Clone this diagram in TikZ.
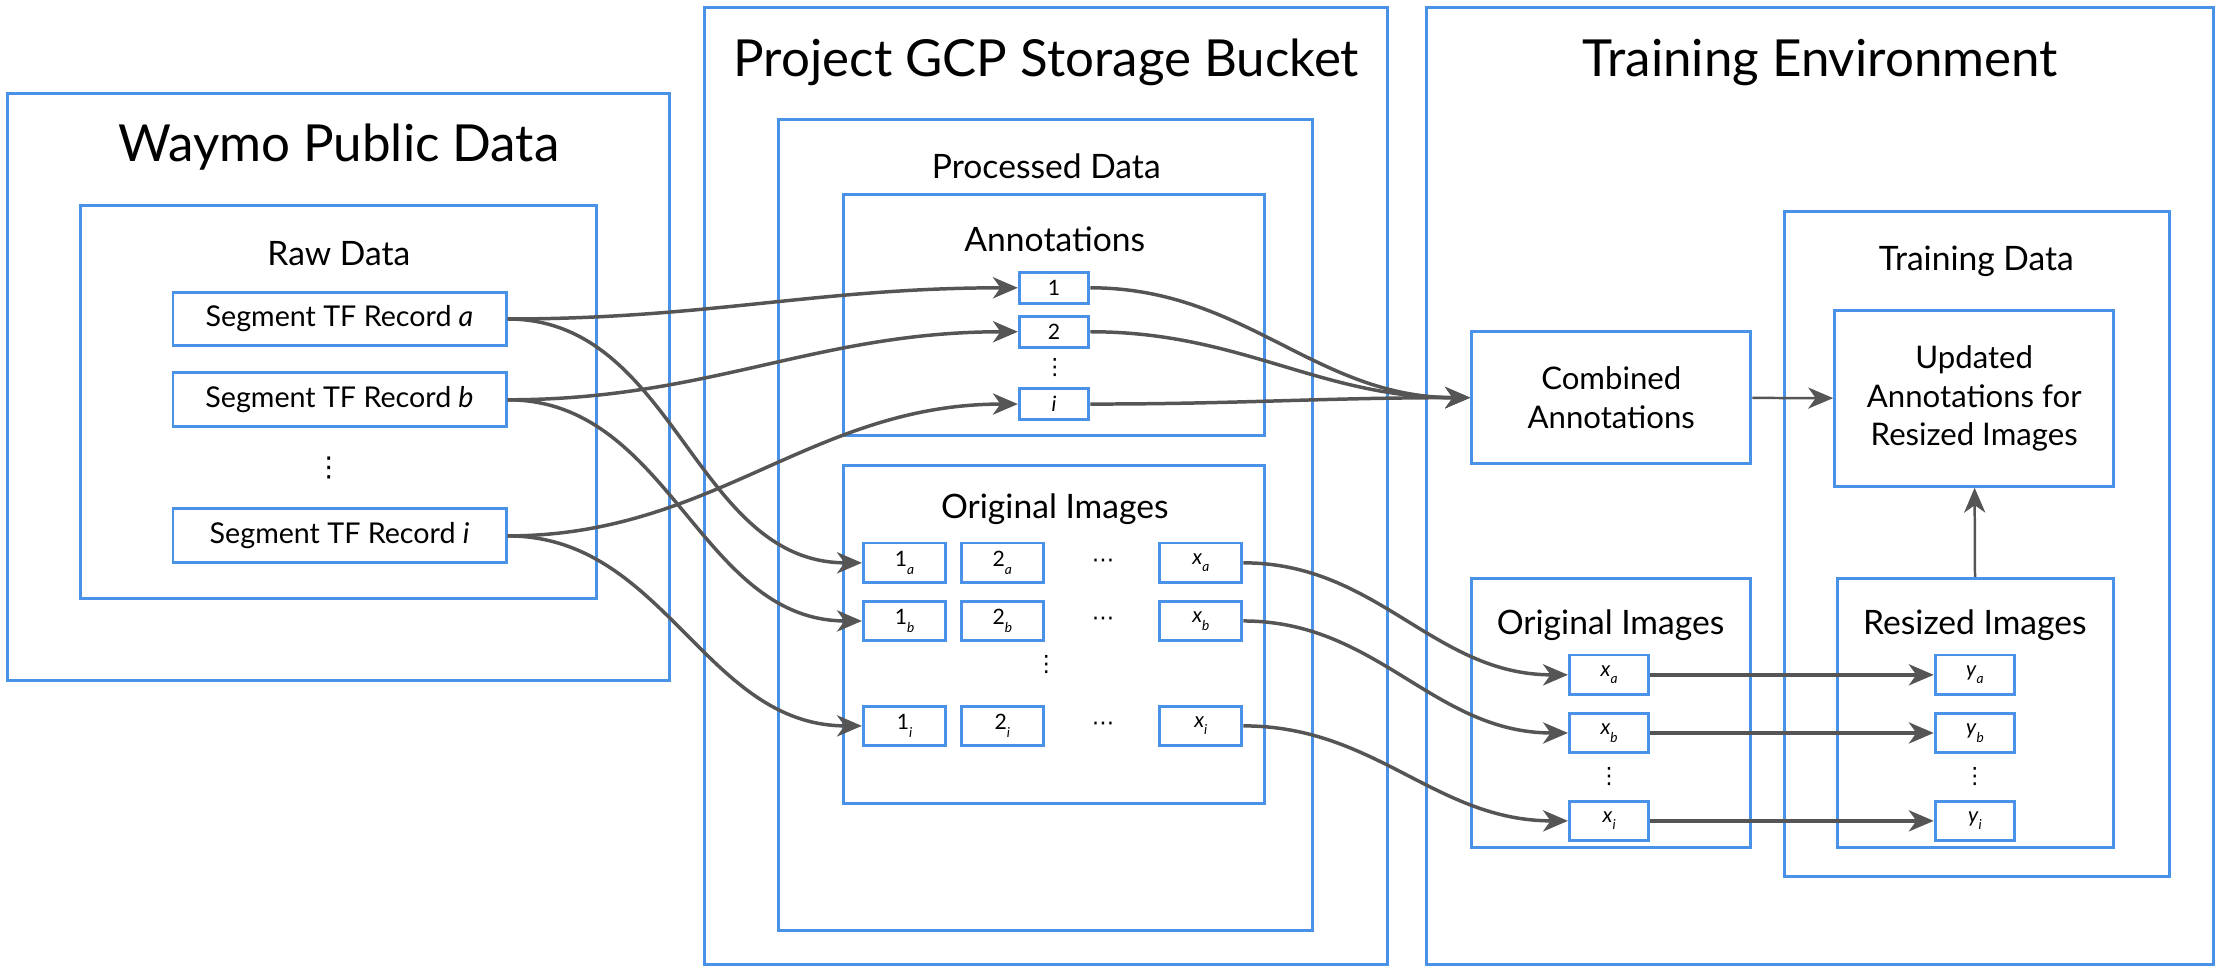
\documentclass[tikz,border=0pt]{standalone}
\usepackage{fontspec}
\setmainfont{Lato}
\newfontfamily\dotsfont{DejaVu Sans}
\usetikzlibrary{arrows.meta,fit}

\definecolor{boxblue}{RGB}{74,146,232}
\definecolor{flowgray}{RGB}{85,85,85}

% index that hangs below the line, as in the drawing
\newcommand{\subtag}[1]{\raisebox{-0.7ex}{\fontsize{5.5}{6}\selectfont\textit{#1}}}

\tikzset{
  group/.style={draw=boxblue,line width=1.2pt,inner sep=0pt},
  title/.style={font=\fontsize{20.5}{24}\selectfont},
  heading/.style={font=\fontsize{13.5}{16}\selectfont},
  record/.style={draw=boxblue,line width=1.2pt,minimum width=4.7cm,minimum height=0.76cm,inner sep=0pt,font=\fontsize{11.5}{14}\selectfont},
  annbox/.style={draw=boxblue,line width=1.2pt,minimum width=0.98cm,minimum height=0.44cm,inner sep=0pt,font=\fontsize{8.5}{10}\selectfont},
  cell/.style={draw=boxblue,line width=1.2pt,minimum width=1.16cm,minimum height=0.56cm,inner sep=0pt,font=\fontsize{8.5}{10}\selectfont},
  bigbox/.style={draw=boxblue,line width=1.2pt,minimum width=3.94cm,inner sep=0pt,align=center,font=\fontsize{12.5}{15.5}\selectfont},
  dotmark/.style={font=\dotsfont\fontsize{9}{10}\selectfont,inner sep=0pt},
  flow/.style={draw=flowgray,line width=1.4pt,-{Stealth[length=10pt,width=8.5pt,inset=3pt]}},
}

\begin{document}
\begin{tikzpicture}[x=0.02cm,y=-0.02cm]

      \useasboundingbox (0,0) rectangle (1568,686);

      % containers
      \node[group,fit={(5,66) (472,480)}] (waymo) {};
      \node[group,fit={(57,145) (421,422)}] (raw) {};
      \node[group,fit={(497,5) (979,680)}] (bucket) {};
      \node[group,fit={(549,84) (926,656)}] (processed) {};
      \node[group,fit={(595,137) (892,307)}] (annot) {};
      \node[group,fit={(595,328) (892,567)}] (origgcp) {};
      \node[group,fit={(1006,5) (1561,680)}] (env) {};
      \node[group,fit={(1259,149) (1530,618)}] (train) {};
      \node[group,fit={(1038,408) (1235,598)}] (origenv) {};
      \node[group,fit={(1296,408) (1491,598)}] (resized) {};

      % titles
      \node[title] (waymot) at (239,104) {Waymo Public Data};
      \node[title] (buckett) at (738,44) {Project GCP Storage Bucket};
      \node[title] (envt) at (1284,44) {Training Environment};
      \node[heading] (rawt) at (239,179) {Raw Data};
      \node[heading] (processedt) at (738,117) {Processed Data};
      \node[heading] (annott) at (744,169) {Annotations};
      \node[heading] (origgcpt) at (744,359) {Original Images};
      \node[heading] (traint) at (1394,184) {Training Data};
      \node[heading] (origenvt) at (1136,441) {Original Images};
      \node[heading] (resizedt) at (1393,441) {Resized Images};

      % raw records
      \begin{scope}[every node/.style={record}]
        \node (reca) at (239.5,225) {Segment TF Record \textit{a}};
        \node (recb) at (239.5,282) {Segment TF Record \textit{b}};
        \node (reci) at (239.5,378) {Segment TF Record \textit{i}};
      \end{scope}
      \node[dotmark,font=\dotsfont\fontsize{11}{12}\selectfont] (recdots) at (232,330) {⋮};

      % annotation files
      \begin{scope}[every node/.style={annbox}]
        \node (ann1) at (743.5,203) {1};
        \node (ann2) at (743.5,234) {2};
        \node (anni) at (743.5,285) {\textit{i}};
      \end{scope}
      \node[dotmark] (anndots) at (744,259) {⋮};

      % original images in the bucket
      \begin{scope}[every node/.style={cell}]
        \node (img1a) at (638,397) {1\subtag{a}};
        \node (img2a) at (707,397) {2\subtag{a}};
        \node (imgxa) at (847,397) {\textit{x}\subtag{a}};
        \node (img1b) at (638,438) {1\subtag{b}};
        \node (img2b) at (707,438) {2\subtag{b}};
        \node (imgxb) at (847,438) {\textit{x}\subtag{b}};
        \node (img1i) at (638,512) {1\subtag{i}};
        \node (img2i) at (707,512) {2\subtag{i}};
        \node (imgxi) at (847,512) {\textit{x}\subtag{i}};
      \end{scope}
      \node[dotmark] (rowdotsa) at (778,397) {⋯};
      \node[dotmark] (rowdotsb) at (778,438) {⋯};
      \node[dotmark] (rowdotsi) at (778,512) {⋯};
      \node[dotmark] (imgdots) at (738,469) {⋮};

      % training environment
      \node[bigbox,minimum height=1.86cm] (comb) at (1136.5,280.5) {Combined\\Annotations};
      \node[bigbox,minimum height=2.48cm] (upd) at (1392.5,281) {Updated\\Annotations for\\Resized Images};

      \begin{scope}[every node/.style={cell,minimum width=1.12cm}]
        \node (xa) at (1135,476) {\textit{x}\subtag{a}};
        \node (xb) at (1135,517) {\textit{x}\subtag{b}};
        \node (xi) at (1135,579) {\textit{x}\subtag{i}};
        \node (ya) at (1393,476) {\textit{y}\subtag{a}};
        \node (yb) at (1393,517) {\textit{y}\subtag{b}};
        \node (yi) at (1393,579) {\textit{y}\subtag{i}};
      \end{scope}
      \node[dotmark] (xdots) at (1135,548) {⋮};
      \node[dotmark] (ydots) at (1393,548) {⋮};

      % connectors
      \begin{scope}[every edge/.style={flow}]
        \path (reca.east) edge[out=0,in=180] (ann1.west);
        \path (recb.east) edge[out=0,in=180] (ann2.west);
        \path (reci.east) edge[out=0,in=180] (anni.west);
        \path (reca.east) edge[out=0,in=180] (img1a.west);
        \path (recb.east) edge[out=0,in=180] (img1b.west);
        \path (reci.east) edge[out=0,in=180] (img1i.west);

        \path (ann1.east) edge[out=0,in=180] (comb.west);
        \path (ann2.east) edge[out=0,in=180] (comb.west);
        \path (anni.east) edge[out=0,in=180] (comb.west);

        \path (imgxa.east) edge[out=0,in=180] (xa.west);
        \path (imgxb.east) edge[out=0,in=180] (xb.west);
        \path (imgxi.east) edge[out=0,in=180] (xi.west);

        \path (xa) edge (ya);
        \path (xb) edge (yb);
        \path (xi) edge (yi);
      \end{scope}

      \begin{scope}[every edge/.style={flow,line width=1pt}]
        \path (comb) edge (upd);
        \path (resized) edge (upd);
      \end{scope}

    \end{tikzpicture}
\end{document}
